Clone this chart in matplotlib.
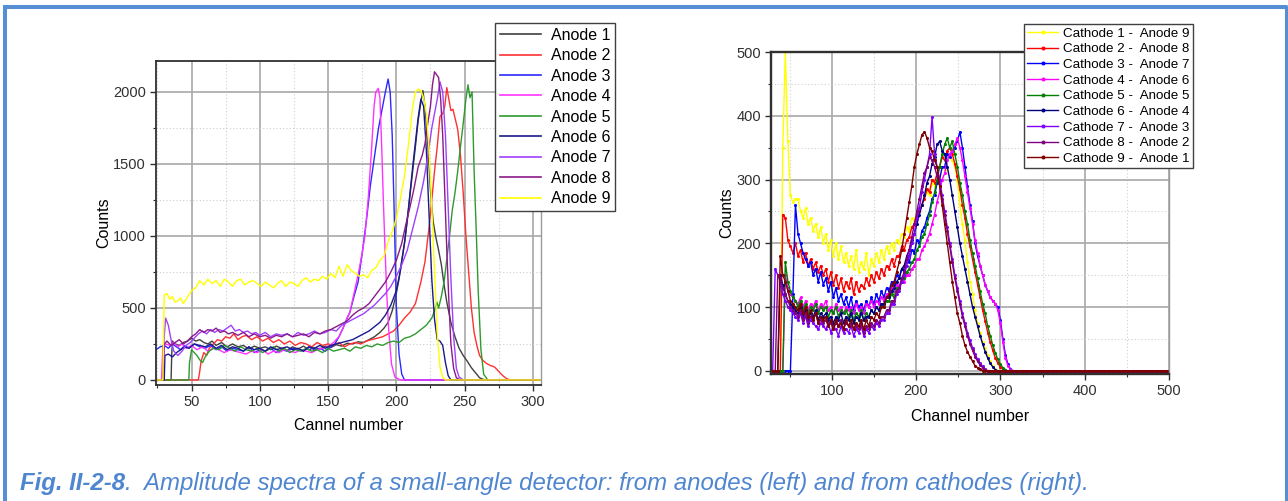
import numpy as np
import matplotlib
matplotlib.use("Agg")
import matplotlib.pyplot as plt
from matplotlib.ticker import MultipleLocator
from matplotlib.lines import Line2D

plt.rcParams["font.family"] = ["Liberation Sans", "DejaVu Sans"]

# ---------------- left panel: anode spectra, (channel, counts) ----------------
anode1 = [(24,0),(35,0),(35.5,180),(36,270),(38,250),(41,240),(44,260),(47,270),(50,290),(53,270),(56,280),(59,260),(62,250),(65,270),(68,240),(72,260),(76,230),(80,250),(84,230),(88,240),(92,215),(96,235),(100,220),(104,230),(108,210),(112,235),(116,220),(120,205),(124,230),(128,215),(132,235),(136,210),(140,225),(144,215),(148,235),(152,225),(156,245),(160,235),(164,255),(168,250),(172,265),(176,260),(180,280),(184,300),(188,330),(191,360),(194,400),(197,480),(200,600),(202,700),(204,830),(206,950),(208,1100),(210,1280),(212,1450),(214,1620),(216,1800),(218,1930),(219.5,2010),(221,1900),(223,1650),(225,1320),(227,1100),(229,990),(231,900),(233,800),(235,660),(237,540),(240,400),(243,300),(246,220),(249,170),(252,130),(255,85),(258,50),(261,15),(264,3),(267,0),(306,0)]
anode2 = [(24,0),(55,0),(56,60),(57,130),(59,190),(61,170),(63,220),(66,250),(69,280),(72,270),(75,300),(78,290),(81,320),(84,280),(87,300),(90,310),(94,280),(98,300),(102,270),(106,290),(110,260),(114,280),(118,250),(122,270),(126,240),(130,260),(134,250),(138,230),(142,260),(146,240),(150,250),(154,240),(158,260),(162,230),(166,250),(170,260),(174,250),(178,270),(182,280),(186,290),(190,300),(194,320),(198,340),(202,380),(206,430),(210,470),(214,530),(218,680),(221,820),(224,1060),(226,1250),(228,1450),(230,1620),(232,1830),(234,1850),(235.5,1900),(237,2030),(238.5,1950),(240,1870),(241.5,1880),(243,1820),(245,1740),(247,1560),(249,1300),(251,1000),(253,750),(255,500),(257,330),(259,240),(261,170),(263,140),(266,115),(269,100),(272,90),(275,60),(278,30),(281,8),(284,0),(306,0)]
anode3 = [(24,210),(27,230),(30,240),(33,220),(36,250),(39,230),(42,210),(45,240),(48,220),(52,250),(56,230),(60,220),(64,240),(68,210),(72,230),(76,200),(80,220),(84,210),(88,200),(92,230),(96,190),(100,210),(104,200),(108,220),(112,190),(116,210),(120,200),(124,220),(128,210),(132,200),(136,230),(140,210),(144,220),(148,200),(152,230),(155,250),(158,300),(161,360),(164,430),(166,470),(169,580),(172,680),(175,880),(178,1100),(181,1350),(184,1550),(187,1750),(190,1900),(192,2000),(194,2090),(195.5,2000),(197,1700),(198.5,1150),(200,520),(202,180),(204,40),(206,0),(306,0)]
anode4 = [(24,0),(28,0),(29,230),(31,250),(34,240),(37,260),(40,230),(43,250),(46,220),(50,240),(54,210),(58,230),(62,200),(66,220),(70,210),(74,190),(78,210),(82,200),(86,190),(90,180),(94,200),(98,190),(102,210),(106,180),(110,200),(114,190),(118,210),(122,200),(126,190),(130,210),(134,200),(138,190),(142,210),(146,220),(150,230),(154,260),(158,300),(161,360),(164,430),(166,470),(169,600),(172,730),(175,880),(177,1000),(179.5,1270),(182,1620),(183.7,1900),(185,2000),(186.8,2025),(188,1960),(189.3,1620),(190.5,1250),(191.7,920),(193,600),(194.5,340),(196.5,110),(199,20),(203,0),(306,0)]
anode5 = [(24,0),(48,0),(48.5,120),(50,210),(52,190),(54,170),(56,140),(58,120),(60,160),(63,200),(66,220),(70,210),(74,240),(78,220),(82,200),(86,230),(90,210),(94,200),(98,220),(102,190),(106,210),(110,230),(114,200),(118,220),(122,190),(126,210),(130,200),(134,220),(138,200),(142,210),(146,190),(150,220),(154,200),(158,210),(162,220),(166,200),(170,230),(174,220),(178,240),(182,230),(186,250),(190,240),(194,260),(198,270),(202,260),(206,290),(210,300),(214,320),(218,350),(222,380),(226,430),(228,480),(229.8,540),(231,500),(233,580),(235,680),(237,840),(239,1000),(241,1180),(243,1300),(245,1450),(247,1620),(249,1780),(251,1950),(252.5,2050),(254,1960),(255.5,2000),(257,1450),(258.5,1050),(260,620),(262,210),(264,40),(267,0),(306,0)]
anode6 = [(24,0),(30,0),(30.5,170),(33,180),(36,160),(39,190),(42,210),(45,230),(48,220),(52,250),(56,240),(60,230),(64,250),(68,220),(72,240),(76,210),(80,230),(84,220),(88,200),(92,230),(96,210),(100,220),(104,200),(108,230),(112,210),(116,220),(120,230),(124,210),(128,220),(132,200),(136,230),(140,220),(144,240),(148,220),(152,240),(156,250),(160,260),(164,270),(168,280),(172,300),(176,320),(180,340),(184,370),(188,400),(192,450),(196,520),(200,620),(203,760),(206,950),(209,1200),(212,1480),(214,1650),(216,1820),(218,1950),(220,1900),(222,1600),(224,1150),(226,700),(228,420),(230,280),(232,270),(234,240),(236,120),(238,30),(240,0),(306,0)]
anode7 = [(24,0),(29,0),(30,300),(31,430),(33,380),(35,280),(37,200),(40,170),(43,200),(46,240),(49,260),(52,290),(55,320),(58,340),(61,320),(64,350),(67,330),(70,350),(73,340),(76,360),(79,380),(82,340),(85,350),(88,330),(91,340),(94,320),(97,330),(100,310),(104,330),(108,300),(112,320),(116,310),(120,320),(124,300),(128,330),(132,310),(136,320),(140,340),(144,320),(148,330),(152,350),(156,340),(160,380),(164,400),(168,420),(172,440),(176,460),(180,490),(184,520),(188,560),(192,600),(196,650),(200,720),(204,800),(208,900),(212,1050),(216,1200),(220,1380),(223,1550),(226,1750),(228,1850),(230,1950),(232,2070),(234,2000),(236,1700),(238,1200),(240,700),(242,300),(244,80),(246,20),(249,0),(306,0)]
anode8 = [(24,0),(29,0),(30,250),(32,270),(35,240),(38,260),(41,280),(44,250),(47,270),(50,300),(53,320),(56,350),(59,330),(62,350),(65,340),(68,360),(71,330),(74,340),(77,320),(80,330),(84,310),(88,330),(92,300),(96,320),(100,300),(104,310),(108,290),(112,310),(116,300),(120,320),(124,300),(128,310),(132,320),(136,300),(140,330),(144,320),(148,340),(152,350),(156,370),(160,390),(164,410),(168,450),(172,480),(176,500),(180,530),(184,580),(188,630),(192,680),(196,750),(200,830),(204,950),(207,1080),(210,1200),(213,1330),(216,1480),(219,1560),(221,1640),(223,1780),(225,1900),(226.5,2050),(228,2140),(229.5,2120),(231,2100),(232.5,1950),(234,1700),(235.5,1300),(237,900),(238.5,550),(240,250),(242,80),(244,15),(247,0),(306,0)]
anode9 = [(24,0),(29,0),(30,590),(32,600),(34,560),(36,580),(38,540),(40,550),(42,570),(44,530),(46,560),(48,590),(50,620),(53,640),(56,690),(59,660),(62,700),(65,670),(68,690),(71,650),(74,700),(77,680),(80,650),(83,690),(86,700),(89,660),(92,680),(95,690),(98,670),(101,650),(104,680),(107,660),(110,640),(113,670),(116,690),(119,650),(122,680),(125,670),(128,650),(131,690),(134,710),(137,680),(140,700),(143,690),(146,720),(149,700),(152,740),(155,710),(158,790),(161,720),(164,800),(167,760),(170,740),(173,720),(176,730),(179,710),(182,760),(185,780),(188,830),(191,860),(194,960),(197,1030),(200,1120),(203,1260),(206,1420),(209,1640),(212,1900),(214,2000),(216,2020),(218,2010),(220,1960),(222,1850),(224,1600),(226,1200),(228,760),(230,320),(232,90),(234,20),(236,0),(306,0)]

anode_series = [anode1, anode2, anode3, anode4, anode5, anode6, anode7, anode8, anode9]
anode_labels = ["Anode 1", "Anode 2", "Anode 3", "Anode 4", "Anode 5",
                "Anode 6", "Anode 7", "Anode 8", "Anode 9"]
anode_colors = ["#404040", "#ff3030", "#2a2aff", "#ff33ff", "#2e9a2e",
                "#1a1a8c", "#a040ff", "#8a1a8a", "#ffff00"]

# ---------------- right panel: cathode spectra, channels 30..318 step 3 ----------------
cath_ch = np.arange(30, 319, 3)
tail_ch = np.arange(321, 501, 3)

cath1 = [0, 0, 0, 0, 350, 500, 360, 275, 265, 270,
         270, 250, 240, 255, 230, 240, 220, 230, 210, 225,
         200, 215, 190, 205, 180, 200, 175, 195, 170, 185,
         165, 180, 160, 190, 155, 170, 160, 185, 150, 175,
         165, 185, 170, 190, 175, 195, 185, 200, 190, 205,
         200, 215, 210, 225, 220, 240, 235, 250, 255, 260,
         270, 280, 275, 295, 290, 305, 300, 320, 315, 330,
         335, 330, 320, 300, 260, 230, 205, 170, 140, 120,
         95, 75, 60, 45, 35, 25, 15, 8, 3, 0,
         0, 0, 0, 0, 0, 0, 0]
cath2 = [0, 0, 0, 0, 245, 240, 205, 195, 185, 200,
         180, 190, 170, 185, 165, 175, 160, 170, 155, 165,
         150, 160, 140, 155, 135, 150, 130, 145, 125, 140,
         130, 145, 120, 140, 125, 135, 130, 145, 135, 150,
         140, 155, 145, 160, 150, 165, 160, 175, 165, 180,
         180, 195, 190, 205, 210, 225, 230, 245, 250, 260,
         270, 285, 280, 300, 295, 310, 320, 335, 330, 345,
         350, 340, 325, 305, 285, 260, 240, 215, 195, 175,
         155, 135, 115, 95, 78, 60, 45, 32, 20, 12,
         6, 2, 0, 0, 0, 0, 0]
cath3 = [0, 0, 0, 0, 0, 0, 0, 0, 120, 260,
         215, 200, 185, 175, 165, 170, 150, 160, 140, 155,
         135, 145, 125, 140, 115, 130, 110, 120, 105, 115,
         100, 115, 95, 110, 100, 105, 95, 110, 100, 115,
         105, 120, 110, 125, 115, 130, 125, 140, 135, 150,
         145, 160, 155, 175, 170, 190, 185, 205, 200, 220,
         225, 240, 250, 270, 275, 295, 300, 320, 320, 340,
         335, 345, 350, 360, 375, 350, 320, 290, 260, 235,
         200, 180, 165, 150, 135, 125, 115, 110, 105, 100,
         80, 50, 25, 10, 3, 0, 0]
cath4 = [0, 0, 0, 0, 0, 150, 130, 120, 115, 110,
         105, 115, 100, 110, 95, 105, 100, 110, 95, 105,
         100, 110, 95, 100, 90, 105, 95, 100, 90, 100,
         95, 100, 90, 105, 95, 100, 90, 105, 100, 110,
         100, 110, 105, 115, 110, 120, 115, 130, 125, 135,
         130, 145, 140, 150, 150, 160, 165, 175, 175, 190,
         195, 205, 215, 230, 245, 265, 280, 300, 310, 330,
         340, 345, 355, 365, 350, 330, 305, 280, 255, 230,
         205, 185, 165, 150, 135, 125, 115, 110, 105, 95,
         75, 45, 20, 8, 2, 0, 0]
cath5 = [0, 0, 0, 0, 0, 170, 140, 125, 115, 110,
         100, 110, 95, 105, 90, 100, 95, 105, 90, 100,
         95, 100, 85, 95, 90, 100, 85, 95, 90, 95,
         85, 95, 80, 90, 85, 95, 80, 90, 85, 95,
         90, 100, 95, 105, 100, 110, 110, 120, 115, 130,
         130, 140, 145, 155, 160, 170, 175, 190, 195, 210,
         215, 230, 245, 265, 280, 300, 320, 340, 355, 365,
         350, 360, 340, 320, 295, 275, 250, 230, 205, 185,
         165, 145, 125, 105, 90, 70, 55, 40, 28, 18,
         10, 5, 2, 0, 0, 0, 0]
cath6 = [0, 0, 0, 150, 135, 120, 110, 105, 100, 95,
         90, 100, 85, 95, 80, 90, 85, 95, 80, 90,
         85, 90, 80, 85, 75, 85, 80, 90, 75, 85,
         80, 90, 75, 85, 80, 90, 80, 85, 85, 95,
         90, 100, 95, 105, 105, 115, 115, 125, 130, 140,
         145, 160, 165, 180, 190, 205, 215, 230, 245, 260,
         275, 295, 305, 325, 335, 355, 360, 345, 340, 320,
         300, 275, 250, 225, 200, 180, 160, 140, 120, 100,
         85, 70, 55, 42, 30, 20, 12, 6, 2, 0,
         0, 0, 0, 0, 0, 0, 0]
cath7 = [0, 160, 150, 140, 120, 110, 100, 95, 90, 85,
         80, 90, 75, 85, 70, 80, 75, 70, 65, 75,
         70, 65, 75, 60, 70, 65, 55, 70, 60, 65,
         60, 70, 55, 65, 60, 70, 55, 65, 60, 70,
         65, 75, 70, 80, 80, 90, 90, 105, 105, 120,
         125, 140, 150, 165, 180, 200, 215, 240, 255, 280,
         300, 320, 340, 398, 340, 320, 300, 275, 250, 225,
         200, 175, 150, 130, 110, 90, 75, 60, 48, 36,
         26, 18, 12, 7, 3, 0, 0, 0, 0, 0,
         0, 0, 0, 0, 0, 0, 0]
cath8 = [0, 0, 150, 145, 130, 120, 110, 100, 95, 90,
         85, 95, 80, 90, 75, 85, 80, 90, 75, 80,
         75, 80, 70, 75, 65, 75, 70, 80, 65, 75,
         70, 75, 65, 70, 65, 75, 60, 70, 65, 75,
         70, 80, 75, 85, 85, 95, 95, 110, 110, 125,
         130, 145, 155, 175, 190, 210, 230, 250, 270, 290,
         310, 320, 335, 330, 320, 305, 290, 270, 245, 220,
         195, 170, 145, 125, 105, 85, 70, 55, 42, 32,
         22, 15, 9, 5, 2, 0, 0, 0, 0, 0,
         0, 0, 0, 0, 0, 0, 0]
cath9 = [0, 0, 0, 180, 150, 140, 125, 110, 105, 100,
         95, 105, 90, 100, 85, 95, 80, 90, 75, 85,
         80, 85, 70, 80, 65, 80, 70, 75, 65, 80,
         70, 80, 65, 75, 70, 80, 65, 80, 70, 85,
         80, 90, 85, 100, 100, 115, 120, 135, 140, 155,
         170, 190, 215, 240, 265, 290, 320, 340, 355, 370,
         375, 365, 350, 345, 330, 320, 290, 260, 230, 200,
         170, 140, 115, 90, 75, 55, 40, 30, 22, 15,
         8, 5, 3, 0, 0, 0, 0, 0, 0, 0,
         0, 0, 0, 0, 0, 0, 0]

cath_series = [cath1, cath2, cath3, cath4, cath5, cath6, cath7, cath8, cath9]
cath_labels = ["Cathode 1 -  Anode 9", "Cathode 2 -  Anode 8", "Cathode 3 -  Anode 7",
               "Cathode 4 -  Anode 6", "Cathode 5 -  Anode 5", "Cathode 6 -  Anode 4",
               "Cathode 7 -  Anode 3", "Cathode 8 -  Anode 2", "Cathode 9 -  Anode 1"]
cath_colors = ["#ffff00", "#ff0000", "#0000ff", "#ff00ff", "#008000",
               "#000080", "#8000ff", "#800080", "#800000"]

W, H = 1288, 501
fig = plt.figure(figsize=(W / 100, H / 100), dpi=100)


def px_axes(left, top, right, bottom):
    return fig.add_axes([left / W, 1 - bottom / H, (right - left) / W, (bottom - top) / H])


def style_axes(ax, xmaj, xmin, ymaj, ymin, spine_lw):
    ax.xaxis.set_major_locator(MultipleLocator(xmaj))
    ax.xaxis.set_minor_locator(MultipleLocator(xmin))
    ax.yaxis.set_major_locator(MultipleLocator(ymaj))
    ax.yaxis.set_minor_locator(MultipleLocator(ymin))
    ax.grid(True, which="major", color="#a8a8a8", lw=1.2)
    ax.grid(True, which="minor", color="#cfcfcf", lw=0.8, ls=(0, (1, 2)))
    ax.set_axisbelow(True)
    ax.tick_params(which="major", direction="out", length=4, width=1, labelsize=10.5,
                   colors="#303030", pad=3)
    ax.tick_params(which="minor", direction="out", length=2.5, width=0.8, colors="#303030")
    for s in ["left", "bottom", "top"]:
        ax.spines[s].set_color("#303030")
        ax.spines[s].set_linewidth(spine_lw)
    ax.spines["right"].set_color("#9a9a9a")
    ax.spines["right"].set_linewidth(1.0)


# ---- left
ax1 = px_axes(155.5, 61, 541, 385)
for data, lab, col in zip(anode_series, anode_labels, anode_colors):
    xs = [p[0] for p in data]
    ys = [p[1] for p in data]
    ax1.plot(xs, ys, color=col, lw=1.0, label=lab)
ax1.set_xlim(23.6, 306)
ax1.set_ylim(-35, 2215)
style_axes(ax1, 50, 25, 500, 250, 1.3)
ax1.set_xlabel("Cannel number", fontsize=11.5, labelpad=7)
ax1.set_ylabel("Counts", fontsize=11.5, labelpad=1)
leg1 = ax1.legend(handles=[Line2D([], [], color=c, lw=1.2) for c in anode_colors],
                  labels=anode_labels, loc="upper left",
                  bbox_to_anchor=(495 / W, 1 - 23 / H), bbox_transform=fig.transFigure,
                  fontsize=11.5, frameon=True, fancybox=False, framealpha=1,
                  edgecolor="#404040", handlelength=2.6, handletextpad=0.6,
                  labelspacing=0.34, borderpad=0.3, borderaxespad=0)
leg1.get_frame().set_linewidth(1.0)

# ---- right
ax2 = px_axes(771, 52, 1169, 374)
for vals, lab, col in zip(cath_series, cath_labels, cath_colors):
    xs = np.concatenate([cath_ch, tail_ch])
    ys = np.concatenate([np.array(vals, dtype=float), np.zeros(len(tail_ch))])
    ax2.plot(xs, ys, color=col, lw=1.0, marker="o", ms=2.2, mew=0, label=lab)
ax2.set_xlim(28, 500)
ax2.set_ylim(-5, 500)
style_axes(ax2, 100, 50, 100, 50, 1.7)
ax2.set_xlabel("Channel number", fontsize=11.5, labelpad=8)
ax2.set_ylabel("Counts", fontsize=11.5, labelpad=2)
leg2 = ax2.legend(loc="upper left", bbox_to_anchor=(1024 / W, 1 - 24 / H),
                  bbox_transform=fig.transFigure, fontsize=9.6, frameon=True,
                  fancybox=False, framealpha=1, edgecolor="#404040",
                  handlelength=2.3, handletextpad=0.4, labelspacing=0.25,
                  borderpad=0.25, borderaxespad=0, markerscale=1.3)
leg2.get_frame().set_linewidth(1.0)

# ---- page frame and caption
blue = "#558ed5"
fig.add_artist(Line2D([3 / W, 1287 / W], [1 - 7 / H, 1 - 7 / H], color=blue, lw=2.9,
                      transform=fig.transFigure, solid_capstyle="butt"))
fig.add_artist(Line2D([5 / W, 5 / W], [0, 1 - 5 / H], color=blue, lw=2.9,
                      transform=fig.transFigure, solid_capstyle="butt"))
fig.add_artist(Line2D([1285.5 / W, 1285.5 / W], [0, 1 - 5 / H], color=blue, lw=2.2,
                      transform=fig.transFigure, solid_capstyle="butt"))

cap_color = "#4f86d0"
t1 = fig.text(20 / W, 1 - 490 / H, "Fig. II-2-8", fontsize=17.3, style="italic",
              weight="bold", color=cap_color, va="baseline")
fig.canvas.draw()
bb = t1.get_window_extent(renderer=fig.canvas.get_renderer())
fig.text(bb.x1 / W, 1 - 490 / H,
         ".  Amplitude spectra of a small-angle detector: from anodes (left) and from cathodes (right).",
         fontsize=17.3, style="italic", color=cap_color, va="baseline")

fig.savefig("out.png", dpi=100)
